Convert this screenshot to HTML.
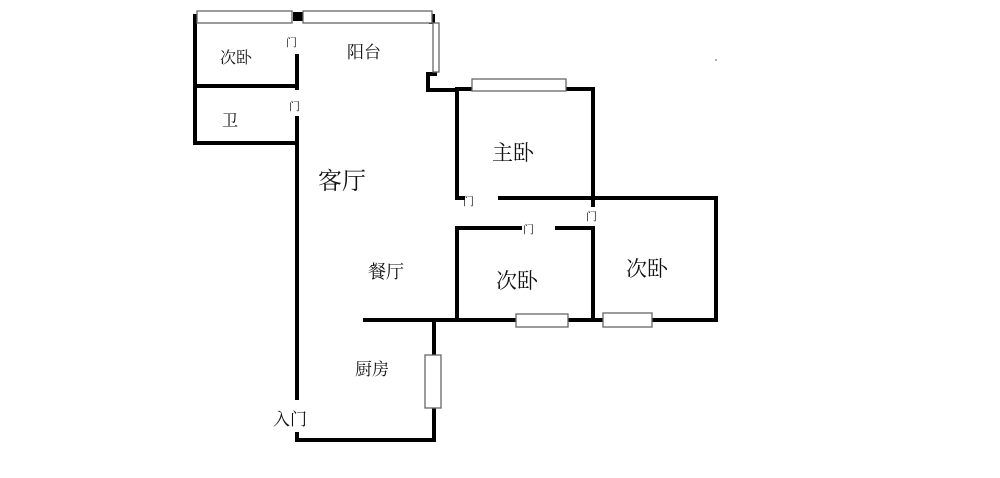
<!DOCTYPE html>
<html><head><meta charset="utf-8"><style>
html,body{margin:0;padding:0;background:#fff;}
svg{display:block}
text{font-family:"Liberation Sans","Noto Serif CJK SC","Noto Sans CJK SC",serif;fill:#111}
</style></head><body>
<svg width="1000" height="478" viewBox="0 0 1000 478" xmlns="http://www.w3.org/2000/svg">
<g stroke="#000" stroke-width="4" fill="none" stroke-linecap="square">
<path d="M195 16 V143 H297"/>
<path d="M195 86 H297"/>
<path d="M297 56 V88"/>
<path d="M297 118 V398"/>
<path d="M297 434 V440 H434 V408"/>
<path d="M434 355 V322"/>
<path d="M365 320 H516"/>
<path d="M568 320 H603"/>
<path d="M652 320 H716 V198 H500"/>
<path d="M593 89 V205"/>
<path d="M593 228 V320"/>
<path d="M457 228 H520"/>
<path d="M557 228 H593"/>
<path d="M457 228 V320"/>
<path d="M463 198 H457 V89 H472"/>
<path d="M566 89 H593"/>
<path d="M435 74 H428 V90 H457"/>
</g>
<rect x="293" y="12" width="10" height="9" fill="#000"/>
<rect x="429" y="14" width="6" height="10" fill="#000"/>
<g fill="#fff" stroke="#666" stroke-width="1.3">
<rect x="197" y="11" width="95" height="12"/>
<rect x="303" y="11" width="129" height="12"/>
<rect x="433" y="23" width="6" height="49"/>
<rect x="472" y="79" width="94" height="12"/>
<rect x="516" y="314" width="52" height="13"/>
<rect x="603" y="313" width="49" height="14"/>
<rect x="425" y="355" width="16" height="53"/>
</g>
<text x="220" y="63" font-size="16">次卧</text>
<text x="347" y="58" font-size="17">阳台</text>
<text x="222" y="126" font-size="16">卫</text>
<text x="318" y="189" font-size="24">客厅</text>
<text x="492" y="160" font-size="21">主卧</text>
<text x="368" y="278" font-size="18">餐厅</text>
<text x="496" y="288" font-size="21">次卧</text>
<text x="626" y="276" font-size="21">次卧</text>
<text x="355" y="375" font-size="17">厨房</text>
<text x="273" y="425" font-size="17">入门</text>
<g font-size="11">
<text x="286" y="46">门</text>
<text x="289" y="110">门</text>
<text x="463" y="205">门</text>
<text x="523" y="233">门</text>
<text x="586" y="220">门</text>
</g>
<circle cx="716" cy="60" r="0.8" fill="#555"/>
</svg>
</body></html>
